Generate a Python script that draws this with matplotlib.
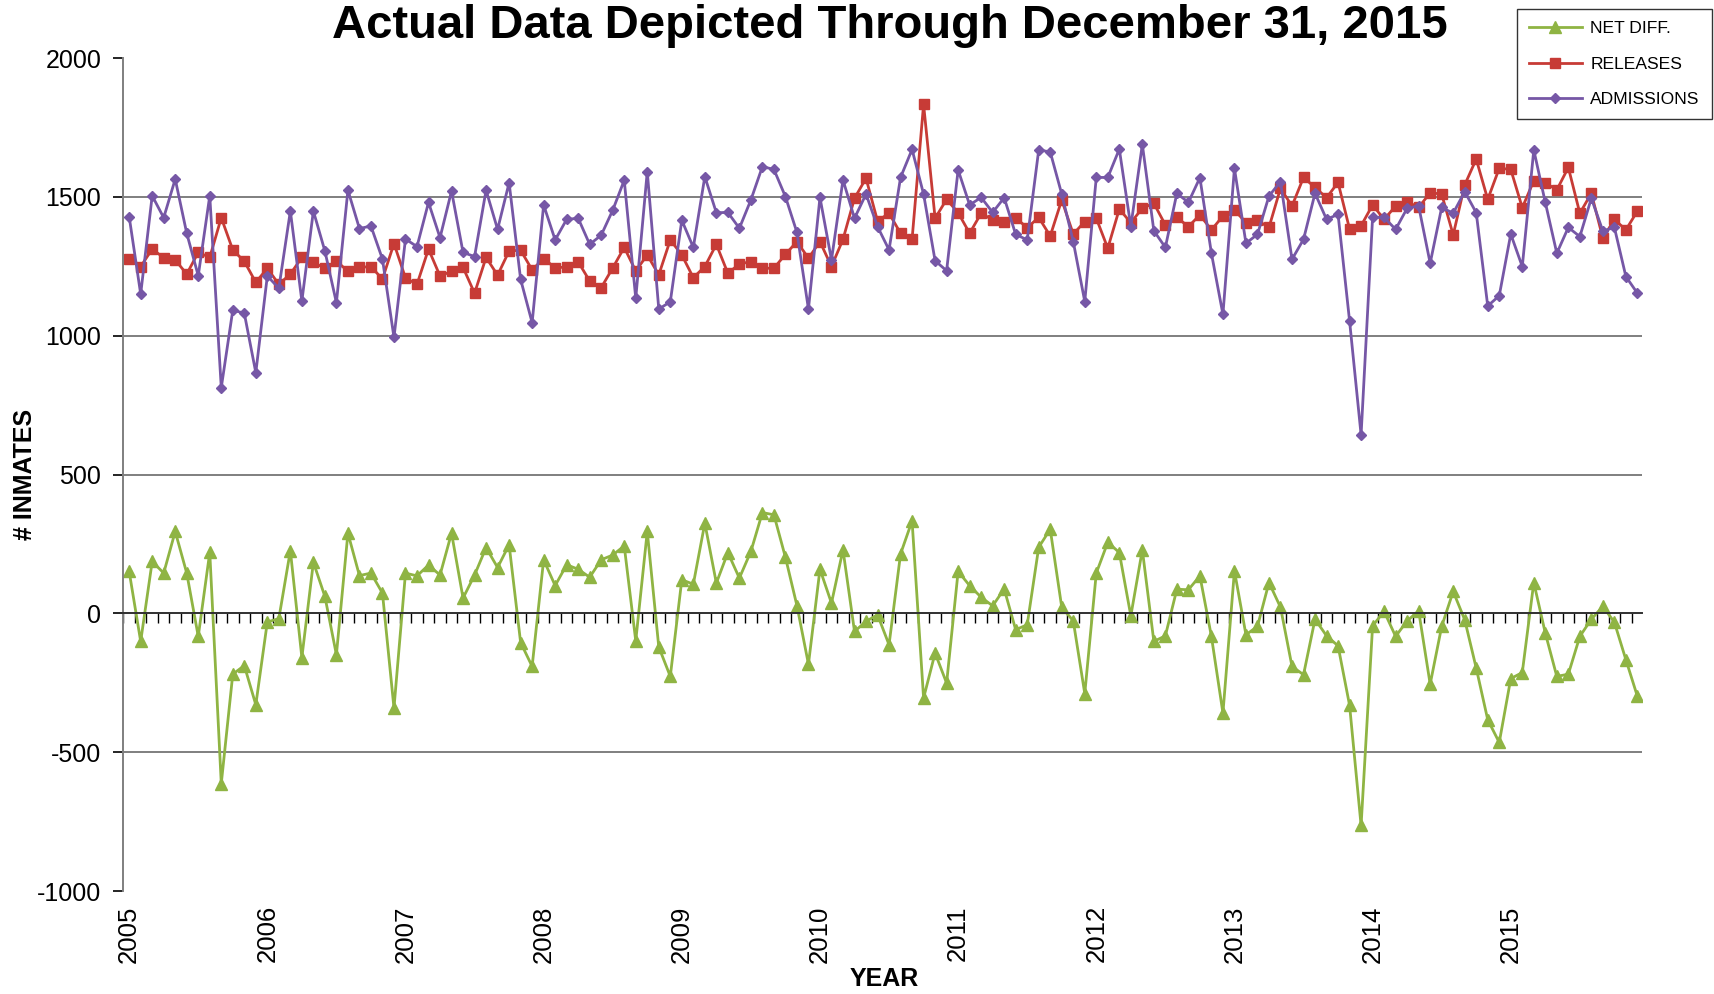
import numpy as np
import pandas as pd
import matplotlib
matplotlib.use("Agg")
import matplotlib.pyplot as plt
from matplotlib.ticker import FixedLocator, MultipleLocator

plt.rcParams['font.family'] = ['Liberation Sans', 'DejaVu Sans']
plt.rcParams['axes.unicode_minus'] = False

# monthly values, Jan 2005 .. Dec 2015
months = pd.period_range('2005-01', '2015-12', freq='M')

admissions = [
    1429, 1150, 1504, 1425, 1564, 1369, 1216, 1504, 813, 1092, 1081, 867,
    1215, 1171, 1449, 1125, 1449, 1305, 1119, 1524, 1386, 1395, 1276, 994,
    1348, 1321, 1480, 1353, 1521, 1300, 1285, 1524, 1383, 1551, 1203, 1047,
    1471, 1345, 1419, 1423, 1329, 1362, 1452, 1560, 1135, 1591, 1096, 1122,
    1416, 1318, 1573, 1443, 1444, 1387, 1489, 1609, 1599, 1501, 1372, 1096,
    1498, 1273, 1561, 1423, 1510, 1393, 1309, 1570, 1671, 1510, 1270, 1234,
    1597, 1471, 1498, 1444, 1497, 1365, 1345, 1669, 1662, 1510, 1339, 1123,
    1570, 1570, 1672, 1393, 1689, 1378, 1318, 1513, 1480, 1569, 1297, 1077,
    1603, 1333, 1365, 1503, 1555, 1275, 1347, 1513, 1419, 1437, 1053, 643,
    1426, 1426, 1383, 1459, 1467, 1261, 1462, 1441, 1519, 1443, 1107, 1144,
    1366, 1249, 1669, 1480, 1297, 1390, 1357, 1495, 1377, 1390, 1213, 1153,
]

releases = [
    1275, 1249, 1312, 1281, 1273, 1222, 1300, 1282, 1425, 1309, 1268, 1192,
    1243, 1185, 1222, 1282, 1264, 1243, 1269, 1232, 1246, 1249, 1204, 1332,
    1208, 1185, 1312, 1215, 1232, 1246, 1153, 1282, 1218, 1305, 1308, 1237,
    1278, 1244, 1248, 1266, 1197, 1173, 1244, 1318, 1233, 1291, 1219, 1345,
    1291, 1209, 1249, 1329, 1225, 1258, 1267, 1243, 1243, 1293, 1339, 1279,
    1339, 1249, 1347, 1495, 1567, 1413, 1441, 1369, 1347, 1833, 1423, 1491,
    1443, 1369, 1441, 1417, 1408, 1424, 1389, 1426, 1359, 1489, 1366, 1411,
    1423, 1315, 1456, 1407, 1459, 1477, 1399, 1426, 1393, 1435, 1381, 1431,
    1453, 1407, 1415, 1390, 1531, 1467, 1570, 1534, 1497, 1552, 1384, 1396,
    1471, 1419, 1467, 1483, 1462, 1515, 1510, 1363, 1543, 1636, 1491, 1603,
    1599, 1461, 1558, 1551, 1525, 1606, 1441, 1513, 1351, 1419, 1381, 1449,
]

net_diff = [
    151, -101, 187, 145, 295, 145, -83, 220, -613, -219, -188, -329,
    -31, -19, 226, -159, 184, 61, -149, 289, 136, 145, 73, -341,
    145, 135, 174, 138, 289, 55, 138, 237, 165, 247, -105, -191,
    193, 100, 175, 159, 130, 193, 210, 243, -99, 295, -121, -227,
    121, 105, 325, 109, 219, 127, 223, 363, 355, 202, 28, -183,
    159, 37, 229, -65, -29, -5, -113, 214, 333, -305, -143, -251,
    151, 100, 58, 27, 88, -59, -41, 238, 303, 22, -27, -289,
    145, 256, 219, -9, 229, -101, -81, 87, 85, 135, -83, -359,
    153, -77, -47, 111, 22, -191, -221, -21, -81, -117, -331, -764,
    -45, 7, -83, -27, 9, -255, -47, 79, -23, -197, -383, -465,
    -235, -213, 111, -71, -227, -219, -83, -21, 25, -32, -167, -299,
]

GREEN = '#8FB443'
RED = '#C73B36'
PURPLE = '#7657A6'

x = np.arange(len(months))
jan = x[months.month == 1]
year_labels = [str(y) for y in months.year[months.month == 1]]

fig = plt.figure(figsize=(17.14, 9.94), dpi=100)
ax = fig.add_axes([0.072, 0.1036, 0.886, 0.838])

ax.plot(x, net_diff, color=GREEN, lw=2, marker='^', ms=8, label='NET DIFF.')
ax.plot(x, releases, color=RED, lw=2, marker='s', ms=6.5, label='RELEASES')
ax.plot(x, admissions, color=PURPLE, lw=2, marker='D', ms=5.5, label='ADMISSIONS')

ax.set_ylim(-1000, 2000)
ax.set_xlim(-0.5, 131.4)

# horizontal grid at 500 steps, except top and bottom
for g in [-500, 500, 1000, 1500]:
    ax.axhline(g, color='#7F7F7F', lw=1.4, zorder=0)

ax.yaxis.set_major_locator(MultipleLocator(500))
ax.tick_params(axis='y', labelsize=18, length=7, width=1.2, pad=9, colors='black')
ax.spines['left'].set_color('#7F7F7F')
ax.spines['left'].set_linewidth(1.4)
for s in ['top', 'right']:
    ax.spines[s].set_visible(False)

# x axis sits on zero with a tick every month
ax.spines['bottom'].set_position(('data', 0))
ax.spines['bottom'].set_color('#303030')
ax.spines['bottom'].set_linewidth(1.4)
ax.xaxis.set_major_locator(FixedLocator(np.append(x, x[-1] + 1) - 0.5))
ax.tick_params(axis='x', length=7, width=1, direction='out', labelbottom=False)

trans = ax.get_xaxis_transform()
for xi, lab in zip(jan, year_labels):
    ax.text(xi, -0.017, lab, transform=trans, rotation=90, ha='center', va='top', fontsize=18.5)

ax.set_ylabel('# INMATES', fontsize=18, fontweight='bold')
ax.yaxis.set_label_coords(-0.057, 0.5)
fig.text(0.516, 0.003, 'YEAR', ha='center', va='bottom', fontsize=18, fontweight='bold')

fig.text(0.519, 0.962, 'Actual Data Depicted Through December 31, 2015',
         ha='center', va='baseline', fontsize=34, fontweight='bold')

leg = fig.legend(loc='upper right', bbox_to_anchor=(0.9988, 0.991), fontsize=12.6,
                 frameon=True, fancybox=False, edgecolor='black', handlelength=3,
                 labelspacing=1.15, borderpad=0.7, handletextpad=0.5, borderaxespad=0)
leg.get_frame().set_linewidth(1)

fig.savefig('out.png', dpi=100)
